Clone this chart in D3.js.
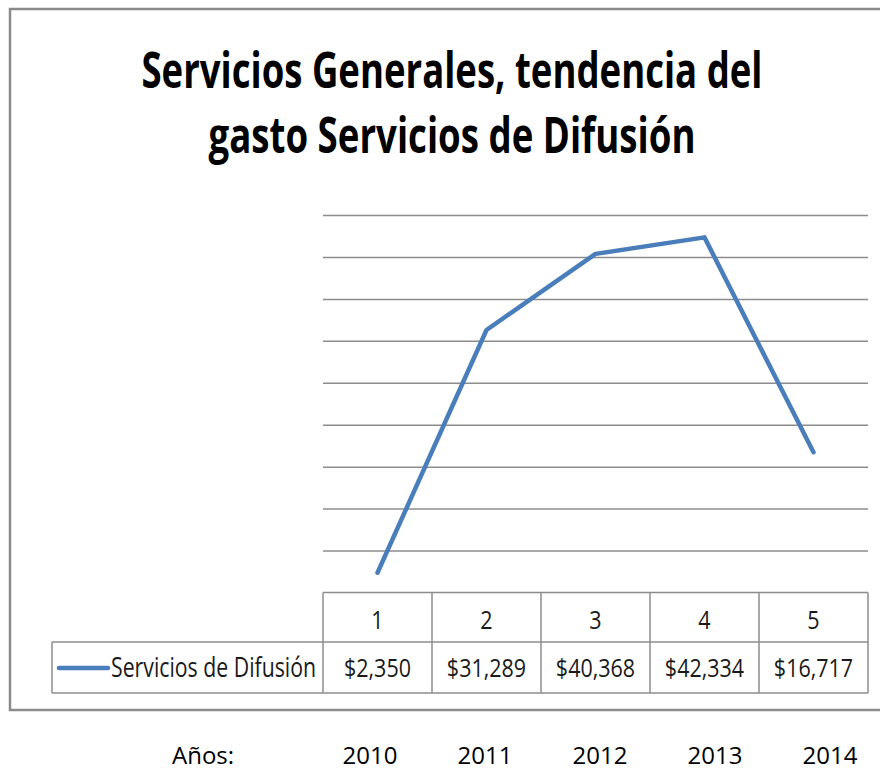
<!DOCTYPE html>
<html>
<head>
<meta charset="utf-8">
<script src="https://cdn.jsdelivr.net/npm/d3@7"></script>
<style>
  body { margin: 0; background: #fff; }
  text { font-family: "Open Sans", "Noto Sans", sans-serif; fill: #1a1a1a; }
</style>
</head>
<body>
<div id="chart"></div>
<script>
// chart data
var categories = ["1", "2", "3", "4", "5"];
var values = [2350, 31289, 40368, 42334, 16717];
var years = ["2010", "2011", "2012", "2013", "2014"];
var seriesName = "Servicios de Difusión";
var titleLines = ["Servicios Generales, tendencia del", "gasto Servicios de Difusión"];
var gridTicks = [5000, 10000, 15000, 20000, 25000, 30000, 35000, 40000, 45000];

var svgWidth = 880;
var svgHeight = 769;

// plot area
var plot = { left: 323, right: 868, top: 215, bottom: 592.5 };
var tableRow1 = 642;
var tableBottom = 693;
var legendLeft = 52;

var svg = d3.select("#chart")
  .append("svg")
  .attr("width", svgWidth)
  .attr("height", svgHeight);

// outer frame of the chart
svg.append("rect")
  .attr("x", 10)
  .attr("y", 9)
  .attr("width", 900)
  .attr("height", 701)
  .attr("fill", "none")
  .attr("stroke", "#8a8a8a")
  .attr("stroke-width", 2.5);

// title
var titleWidths = [621, 487];
svg.selectAll(".title")
  .data(titleLines)
  .enter()
  .append("text")
  .attr("class", "title")
  .attr("x", 452)
  .attr("y", (d, i) => 88 + i * 65)
  .attr("text-anchor", "middle")
  .attr("textLength", (d, i) => titleWidths[i])
  .attr("lengthAdjust", "spacingAndGlyphs")
  .style("font-size", "50px")
  .style("font-weight", "bold")
  .style("fill", "#000")
  .text(d => d);

// scales
var xScale = d3.scaleBand()
  .domain(categories)
  .range([plot.left, plot.right]);

var yScale = d3.scaleLinear()
  .domain([0, 45000])
  .range([plot.bottom, plot.top]);

// gridlines
var grid = d3.axisLeft(yScale)
  .tickValues(gridTicks)
  .tickSize(-(plot.right - plot.left))
  .tickFormat("");

svg.append("g")
  .attr("transform", `translate(${plot.left}, 0)`)
  .call(grid)
  .call(g => g.select(".domain").remove())
  .call(g => g.selectAll("line").attr("stroke", "#8c8c8c").attr("stroke-width", 1.5));

// the series line
var line = d3.line()
  .x((d, i) => xScale(categories[i]) + xScale.bandwidth() / 2)
  .y(d => yScale(d));

svg.append("path")
  .datum(values)
  .attr("fill", "none")
  .attr("stroke", "#4a7ebb")
  .attr("stroke-width", 4.5)
  .attr("stroke-linecap", "round")
  .attr("stroke-linejoin", "round")
  .attr("d", line);

// data table
var table = svg.append("g")
  .attr("stroke", "#8c8c8c")
  .attr("stroke-width", 1.5);

table.append("line")
  .attr("x1", plot.left).attr("x2", plot.right)
  .attr("y1", plot.bottom).attr("y2", plot.bottom);
table.append("line")
  .attr("x1", legendLeft).attr("x2", plot.right)
  .attr("y1", tableRow1).attr("y2", tableRow1);
table.append("line")
  .attr("x1", legendLeft).attr("x2", plot.right)
  .attr("y1", tableBottom).attr("y2", tableBottom);
table.append("line")
  .attr("x1", legendLeft).attr("x2", legendLeft)
  .attr("y1", tableRow1).attr("y2", tableBottom);

var edges = categories.map(c => xScale(c)).concat([plot.right]);
table.selectAll(".col")
  .data(edges)
  .enter()
  .append("line")
  .attr("x1", d => d).attr("x2", d => d)
  .attr("y1", plot.bottom).attr("y2", tableBottom);

// narrow text, squeezed sideways like the original
function condensed(sel, size, sx) {
  sel.attr("transform", `scale(${sx},1)`)
    .style("font-size", size + "px");
}

var cx = c => xScale(c) + xScale.bandwidth() / 2;
var sx = 0.86;

svg.selectAll(".cat")
  .data(categories)
  .enter()
  .append("text")
  .attr("class", "cat")
  .attr("x", d => cx(d) / sx)
  .attr("y", 629)
  .attr("text-anchor", "middle")
  .call(condensed, 25, sx)
  .text(d => d);

var fmt = d3.format("$,.0f");
svg.selectAll(".val")
  .data(values)
  .enter()
  .append("text")
  .attr("class", "val")
  .attr("x", (d, i) => cx(categories[i]) / sx)
  .attr("y", 677)
  .attr("text-anchor", "middle")
  .call(condensed, 25, sx)
  .text(d => fmt(d));

// legend key
svg.append("line")
  .attr("x1", 59).attr("x2", 108)
  .attr("y1", 668).attr("y2", 668)
  .attr("stroke", "#4a7ebb")
  .attr("stroke-width", 4.5)
  .attr("stroke-linecap", "round");

svg.append("text")
  .attr("x", 111)
  .attr("y", 677)
  .attr("textLength", 205)
  .attr("lengthAdjust", "spacingAndGlyphs")
  .style("font-size", "27px")
  .text(seriesName);

// years below the chart
var yearScale = d3.scalePoint()
  .domain(years)
  .range([370, 830]);

svg.append("text")
  .attr("x", 172)
  .attr("y", 764)
  .style("font-size", "24px")
  .style("fill", "#000")
  .text("Años:");

svg.selectAll(".year")
  .data(years)
  .enter()
  .append("text")
  .attr("class", "year")
  .attr("x", d => yearScale(d))
  .attr("y", 764)
  .attr("text-anchor", "middle")
  .style("font-size", "24px")
  .style("fill", "#000")
  .text(d => d);
</script>
</body>
</html>
